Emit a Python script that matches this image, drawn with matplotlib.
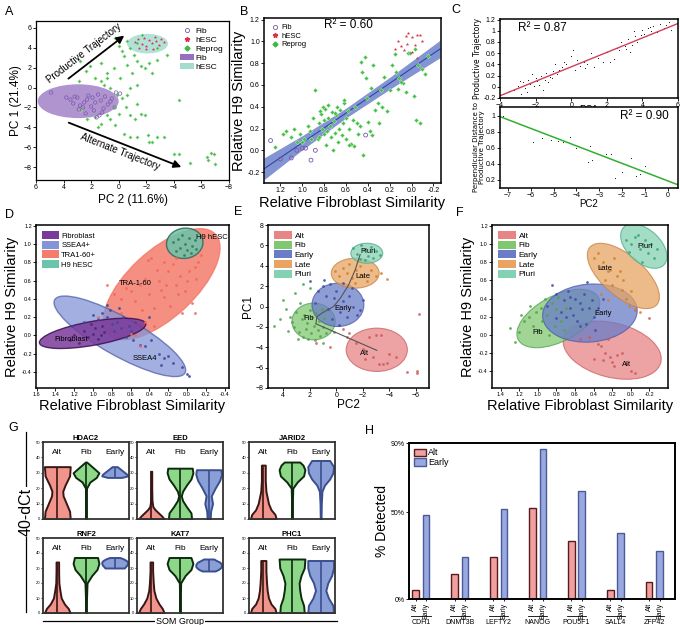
import numpy as np
import matplotlib
matplotlib.use('Agg')
import matplotlib.pyplot as plt
from matplotlib.patches import Ellipse, Patch
from matplotlib.lines import Line2D

plt.rcParams['font.family'] = ['Liberation Sans', 'DejaVu Sans']

# ---------------- data: panel A (PC2, PC1) ----------------
a_fib = [(4.9, -0.5), (3.8, -1.0), (3.5, -1.2), (3.2, -0.9), (3.0, -1.0), (2.8, -1.8), (2.6, -2.0),
         (2.5, -1.5), (2.3, -1.2), (2.2, -0.8), (2.0, -1.9), (1.8, -2.3), (1.7, -1.5), (1.5, -0.7),
         (1.4, -2.8), (1.3, -1.3), (1.1, -2.1), (1.0, -0.9), (0.8, -1.7), (0.5, -1.1), (0.3, -2.0),
         (0.2, -0.5), (2.9, -2.2), (3.3, -1.6), (1.9, -1.0), (1.2, -2.5), (0.6, -1.4), (2.4, -2.6),
         (1.6, -3.0), (-0.1, -0.6)]
a_hesc = [(-1.2, 4.6), (-1.5, 4.0), (-1.7, 4.4), (-1.8, 5.0), (-2.0, 4.2), (-2.2, 4.8), (-2.4, 4.5),
          (-2.5, 3.9), (-2.7, 4.7), (-2.9, 4.3), (-3.1, 4.9), (-3.3, 4.6), (-1.4, 4.9), (-2.6, 5.1),
          (-2.0, 3.9)]
a_reprog = [(0.24, 5.0), (0.0, 4.2), (-0.36, 3.2), (-1.1, 3.3), (-1.3, 2.7), (-0.6, 2.3), (0.36, 2.0),
            (0.85, 1.5), (1.3, 2.5), (2.1, 2.2), (2.4, 1.7), (2.9, 0.7), (1.3, 0.7), (0.85, 1.0),
            (0.6, 0.0), (0.1, -0.7), (-0.24, -1.0), (-0.6, -0.7), (-0.5, -2.0), (-0.85, -2.8),
            (-1.2, -3.2), (-1.6, -2.7), (-1.9, -2.8), (-1.3, -1.7), (-1.9, 2.0), (-2.4, 1.5),
            (-2.2, 2.5), (-2.8, 2.8), (-3.5, 3.3), (-2.8, 4.0), (-4.4, -1.3), (0.6, -3.2), (1.3, -3.7),
            (1.5, -4.0), (0.24, -3.8), (-0.36, -4.7), (-0.85, -5.0), (-1.3, -5.0), (-2.1, -4.8),
            (-2.2, -5.5), (-2.4, -5.5), (-2.8, -5.0), (-3.3, -5.0), (-4.0, -6.7), (-4.4, -6.7),
            (-5.2, -7.6), (-6.4, -7.0), (-6.7, -6.6), (-6.5, -7.3), (-7.0, -7.7), (-6.9, -6.7),
            (2.8, 2.7), (1.7, 1.0), (1.1, 0.3), (-0.85, 0.0), (-1.3, 0.3), (-0.1, 1.0), (-1.0, 1.5),
            (-1.6, 2.2), (-0.85, 4.0), (-1.3, 4.5), (-0.24, 3.7), (-1.7, 5.3), (-0.6, 4.7),
            (0.36, -2.0), (0.0, -2.7), (0.85, -2.8), (2.3, -3.2), (2.8, -2.3), (1.7, -3.0)]
a_ell_fib = (2.94, -1.37, 5.87, 3.4)
a_ell_hesc = (-2.09, 4.42, 2.97, 1.97)
a_arrow_prod = [(3.81, 0.73), (-0.56, 5.4)]
a_arrow_alt = [(3.81, -3.43), (-4.73, -8.1)]

# ---------------- data: panel B ----------------
b_fib = [(1.29, 0.09), (1.2, -0.08), (1.1, -0.07), (1.05, 0.0), (1.0, 0.02), (0.97, 0.02),
         (0.92, -0.09), (0.42, 0.14), (0.88, 0.0)]
b_hesc = [(0.12, 1.0), (0.1, 0.96), (0.05, 1.05), (0.03, 1.08), (0.0, 1.04), (-0.05, 1.06),
          (-0.08, 1.06), (0.07, 0.92), (0.0, 0.9), (-0.03, 0.97), (0.15, 0.93), (-0.1, 1.0),
          (0.04, 0.98), (-0.05, 0.85)]
b_reprog = [(1.25, 0.03), (1.18, 0.15), (1.15, 0.18), (1.1, 0.12), (1.08, 0.2), (1.05, 0.08),
            (1.02, 0.15), (0.98, 0.1), (0.95, 0.22), (0.93, 0.18), (0.9, 0.3), (0.88, 0.55),
            (0.86, 0.1), (0.85, 0.25), (0.84, 0.36), (0.83, 0.33), (0.82, 0.2), (0.81, 0.4),
            (0.8, 0.15), (0.8, 0.28), (0.79, 0.38), (0.78, 0.05), (0.77, 0.18), (0.76, 0.3),
            (0.75, 0.22), (0.74, 0.12), (0.73, 0.35), (0.72, 0.0), (0.71, 0.27), (0.7, 0.16),
            (0.69, 0.32), (0.68, 0.4), (0.67, 0.08), (0.66, 0.2), (0.65, 0.37), (0.64, 0.14),
            (0.63, 0.25), (0.62, 0.43), (0.6, 0.1), (0.6, 0.3), (0.58, 0.36), (0.57, 0.2),
            (0.55, 0.06), (0.54, 0.28), (0.53, 0.04), (0.52, 0.4), (0.5, 0.25), (0.49, 0.15),
            (0.47, 0.22), (0.46, 0.81), (0.45, 0.72), (0.43, 0.86), (0.42, 0.66), (0.41, 0.48),
            (0.4, 0.26), (0.38, 0.18), (0.37, 0.57), (0.36, 0.14), (0.35, 0.78), (0.33, 0.37),
            (0.31, 0.43), (0.3, 0.25), (0.28, 0.55), (0.27, 0.4), (0.25, 0.67), (0.22, 0.36),
            (0.2, 0.55), (0.18, 0.78), (0.15, 0.88), (0.14, 0.72), (0.12, 0.56), (0.11, 0.66),
            (0.08, 0.62), (0.05, 0.54), (0.03, 0.89), (0.01, 0.89), (-0.02, 0.5), (-0.03, 0.93),
            (-0.04, 0.28), (-0.06, 0.78), (-0.08, 0.25), (-0.1, 0.75), (-0.12, 0.7), (-0.15, 0.87),
            (0.44, -0.04), (0.7, 0.34), (0.76, 0.42), (0.62, 0.46), (0.1, 0.63), (0.92, 0.1),
            (1.0, 0.08), (0.85, 0.12), (0.57, 0.05)]
b_fit_x = [1.35, 1.0, 0.6, 0.2, -0.26]
b_fit_y = [-0.17, 0.069, 0.342, 0.615, 0.93]
b_band = [0.1, 0.065, 0.045, 0.055, 0.08]

# ---------------- data: panel C ----------------
c1_pts = [(-3.5, -0.08), (-3.2, -0.05), (-3.0, 0.02), (-2.9, 0.1), (-2.8, -0.12), (-2.7, 0.08),
          (-2.6, -0.03), (-2.5, -0.1), (-2.4, 0.12), (-2.3, 0.05), (-2.2, 0.22), (-2.1, 0.02),
          (-2.0, 0.15), (-1.9, 0.1), (-1.8, 0.03), (-1.7, 0.2), (-1.6, -0.05), (-1.5, 0.12),
          (-1.4, 0.25), (-1.3, 0.08), (-1.2, 0.18), (-1.0, 0.28), (-0.9, 0.4), (-0.8, 0.22),
          (-0.7, 0.3), (-0.5, 0.35), (-0.3, 0.4), (0.1, 0.65), (0.2, 0.3), (0.3, 0.48), (0.5, 0.38),
          (0.7, 0.45), (0.8, 0.33), (0.9, 0.4), (1.1, 0.6), (1.3, 0.35), (1.5, 0.52), (2.0, 0.62),
          (2.2, 0.45), (2.4, 0.5), (2.6, 0.7), (2.7, 0.65), (2.8, 0.8), (3.0, 0.72), (3.2, 0.85),
          (3.3, 0.62), (3.4, 0.75), (3.5, 1.0), (3.6, 0.9), (3.7, 0.8), (3.9, 0.92), (4.0, 1.02),
          (4.1, 0.95), (4.3, 1.05), (4.5, 1.0), (4.6, 1.08), (4.8, 0.98), (5.0, 1.12), (5.2, 1.05),
          (5.3, 1.1), (5.5, 1.15), (5.6, 1.02), (4.4, 1.07), (3.1, 0.68), (1.8, 0.45), (-1.1, 0.15),
          (-0.4, 0.45), (0.0, 0.55)]
c1_fit_x = [-4.0, 6.0]
c1_fit_y = [-0.16, 1.13]
c2_pts = [(-7.2, 1.0), (-5.9, 0.67), (-5.5, 0.72), (-5.1, 0.7), (-4.6, 0.67), (-4.3, 0.73),
          (-4.0, 0.6), (-3.5, 0.42), (-3.4, 0.62), (-3.3, 0.45), (-2.7, 0.53), (-2.5, 0.52),
          (-2.3, 0.22), (-1.6, 0.47), (-1.4, 0.25), (-1.2, 0.27), (-1.0, 0.38), (-4.8, 0.69),
          (-2.0, 0.3)]
c2_fit_x = [-7.35, 0.45]
c2_fit_y = [0.99, 0.14]

# ---------------- data: panel D ----------------
d_groups = ['Fibroblast', 'SSEA4+', 'TRA1-60+', 'H9 hESC']
d_fib = [(1.25, -0.05), (1.2, 0.0), (1.1, 0.05), (1.05, -0.02), (1.0, 0.02), (0.98, 0.08),
         (0.95, -0.04), (0.92, 0.0), (0.9, 0.1), (1.15, -0.08), (1.02, 0.12), (0.88, 0.04)]
d_ssea = [(1.22, 0.1), (1.1, 0.15), (1.0, 0.22), (0.95, 0.18), (0.9, 0.25), (0.85, 0.2), (0.82, 0.28),
          (0.8, 0.12), (0.78, 0.05), (0.75, 0.15), (0.72, 0.3), (0.7, 0.08), (0.68, 0.2),
          (0.65, -0.02), (0.62, 0.1), (0.6, 0.05), (0.58, -0.05), (0.5, -0.1), (0.45, -0.12),
          (0.38, -0.05), (0.3, -0.2), (0.25, -0.25), (0.2, -0.22), (0.15, -0.3), (0.28, -0.32),
          (0.05, -0.35), (0.0, -0.42), (-0.02, -0.44), (0.85, 0.33), (0.4, 0.2), (0.55, 0.15)]
d_tra = [(0.95, 0.2), (0.85, 0.55), (0.78, 0.45), (0.7, 0.4), (0.65, 0.52), (0.6, 0.48), (0.55, 0.38),
         (0.5, 0.55), (0.48, 0.28), (0.45, 0.62), (0.42, 0.82), (0.4, 0.45), (0.38, 0.85), (0.35, 0.3),
         (0.32, 0.72), (0.3, 0.6), (0.28, 0.5), (0.25, 0.42), (0.22, 0.55), (0.2, 0.7), (0.18, 0.32),
         (0.15, 0.78), (0.12, 0.55), (0.1, 0.45), (0.08, 0.65), (0.05, 0.25), (0.02, 0.48),
         (0.0, 0.6), (-0.02, 0.7), (-0.05, 0.35), (-0.08, 0.75), (-0.1, 0.62), (-0.12, 0.8),
         (-0.15, 0.88), (0.5, -0.12), (0.55, 0.0), (0.6, 0.02), (0.25, 0.8), (0.45, 0.15),
         (0.35, 0.1), (-0.08, 0.25), (0.7, 0.25), (0.12, 0.85)]
d_h9 = [(0.15, 1.02), (0.1, 1.05), (0.08, 0.96), (0.05, 1.1), (0.02, 1.0), (0.0, 0.93), (-0.02, 1.06),
        (-0.05, 0.98), (-0.08, 1.04), (-0.1, 0.95), (0.12, 0.92), (0.03, 0.88), (-0.04, 0.9)]
# ellipse summaries (cx, cy, major, minor, angle)
d_ell_fib = (1.005, 0.022, 1.15, 0.26, 169.5)
d_ell_ssea = (0.715, -0.01, 1.6, 0.42, 30.1)
d_ell_tra = (0.27, 0.56, 1.58, 0.72, 136.0)
d_ell_h9 = (0.025, 1.007, 0.39, 0.33, -10.0)

# ---------------- data: panel E ----------------
e_groups = ['Alt', 'Fib', 'Early', 'Late', 'Pluri']
e_alt = [(-6.2, -0.7), (-5.3, -6.4), (-6.1, -6.3), (-6.1, -6.5), (-4.0, -4.7), (-3.8, -5.5),
         (-3.5, -5.6), (-3.2, -5.6), (-2.8, -5.0), (-2.0, -4.2), (-1.5, -3.6), (-2.5, -3.0),
         (-3.0, -2.8), (-3.4, -2.8), (-1.0, -2.6), (-0.8, -3.0), (0.5, -4.0), (1.5, -3.6),
         (-4.5, -5.0), (-2.2, -5.2), (-0.5, -2.2)]
e_fib = [(4.7, -1.9), (4.0, 0.6), (3.8, -0.2), (3.5, -1.0), (3.3, -1.5), (3.2, -2.0), (3.0, -0.5),
         (2.8, -2.5), (2.6, -1.2), (2.5, -3.0), (2.4, -0.8), (2.3, -2.2), (2.2, -1.6), (2.1, -3.2),
         (2.0, -0.3), (1.9, -2.6), (1.8, -1.0), (1.7, -1.9), (1.6, -3.3), (1.5, -0.6), (1.4, -2.3),
         (1.3, -1.4), (1.2, -2.9), (1.1, -0.2), (1.0, -2.0), (0.9, -1.1), (0.8, -2.6), (3.1, 1.3),
         (2.7, 0.3), (2.9, -3.2), (1.0, -3.6), (0.2, -2.5), (3.6, -2.4), (4.2, -1.2), (2.0, 1.8),
         (2.5, 2.2)]
e_early = [(2.0, 2.5), (1.4, 1.5), (1.0, 2.0), (0.8, 1.0), (0.5, 2.2), (0.2, 0.8), (0.0, 1.5),
           (-0.3, -0.5), (-0.5, 0.5), (-0.8, -1.0), (-1.0, 1.0), (-1.3, 0.0), (-1.6, -0.8),
           (-1.8, -0.3), (-2.0, 0.6), (0.3, -1.2), (0.6, -0.2), (-0.2, -1.8), (1.6, 0.3),
           (-1.2, 1.8), (0.9, 2.6), (-0.5, 2.3)]
e_late = [(-0.2, 3.0), (-0.5, 3.8), (-0.8, 3.3), (-1.0, 4.2), (-1.2, 2.8), (-1.5, 3.6), (-1.8, 4.0),
          (-2.0, 3.0), (-2.3, 2.5), (-2.6, 3.6), (-3.0, 3.0), (-3.8, 2.7), (0.1, 3.5), (-1.4, 2.3),
          (-3.4, 3.3)]
e_pluri = [(-1.3, 5.7), (-1.6, 5.2), (-1.9, 6.0), (-2.1, 5.5), (-2.4, 5.0), (-2.6, 5.8), (-2.8, 4.8),
           (-3.0, 5.4), (-3.3, 5.1), (-2.2, 4.6), (-1.8, 4.7)]
e_ells = [(-3.05, -4.25, 4.6, 4.25, 0), (1.7, -1.47, 3.25, 3.6, 0), (-0.13, 0.16, 3.9, 4.25, 0),
          (-1.43, 3.27, 3.6, 2.94, 0), (-2.3, 5.23, 2.4, 1.96, 0)]
e_traj = [(-1.8, 5.1), (-1.43, 3.6), (-0.93, 2.1), (-0.3, 0.8), (0.2, 0.0), (1.07, -0.65),
          (1.45, -1.0), (1.52, -1.7), (-3.05, -4.3)]
e_label_pos = [(-2.1, -4.6), (2.1, -1.2), (-0.5, -0.2), (-2.0, 2.9), (-2.4, 5.4)]

# ---------------- data: panel F ----------------
f_alt = [(0.35, -0.1), (0.32, -0.12), (0.28, -0.2), (0.22, -0.25), (0.2, -0.3), (0.18, -0.35),
         (0.15, -0.22), (0.1, -0.2), (0.05, -0.32), (0.3, -0.28), (0.4, -0.27), (0.0, -0.4),
         (-0.05, -0.42), (0.25, -0.05), (0.45, -0.02), (-0.2, 0.18), (-0.05, 0.27), (0.55, -0.05)]
f_fib = [(1.3, 0.08), (1.25, -0.08), (1.2, 0.03), (1.15, 0.15), (1.1, 0.2), (1.05, 0.1), (1.02, 0.25),
         (1.0, 0.05), (0.97, 0.3), (0.95, 0.15), (0.9, 0.22), (0.88, 0.0), (0.85, 0.35), (0.82, 0.1),
         (0.8, 0.28), (0.78, 0.42), (0.75, 0.15), (0.72, 0.05), (0.7, 0.3), (1.08, 0.32), (0.92, 0.4),
         (1.18, 0.22)]
f_early = [(0.85, 0.55), (0.8, 0.45), (0.75, 0.25), (0.72, 0.38), (0.7, 0.2), (0.68, 0.48),
           (0.65, 0.3), (0.62, 0.22), (0.6, 0.4), (0.58, 0.15), (0.55, 0.35), (0.52, 0.28),
           (0.5, 0.45), (0.48, 0.12), (0.45, 0.3), (0.42, 0.38), (0.4, 0.2), (0.38, 0.05),
           (0.35, 0.3), (0.3, 0.4), (0.8, 0.18), (0.9, 0.32), (0.65, 0.42), (0.55, 0.1), (0.47, 0.58)]
f_late = [(0.4, 0.85), (0.35, 0.9), (0.33, 0.75), (0.3, 0.8), (0.28, 0.6), (0.25, 0.7), (0.22, 0.72),
          (0.2, 0.55), (0.18, 0.85), (0.15, 0.65), (0.12, 0.7), (0.1, 0.5), (0.08, 0.6), (0.05, 0.4),
          (0.02, 0.32), (0.0, 0.48), (-0.05, 0.28), (-0.1, 0.25), (0.32, 0.45), (0.25, 0.38)]
f_pluri = [(0.05, 1.05), (0.0, 1.0), (-0.05, 1.08), (-0.1, 0.95), (-0.15, 1.05), (-0.18, 0.9),
           (-0.22, 1.0), (-0.25, 0.85), (-0.12, 0.8), (0.02, 0.92), (-0.08, 1.1), (-0.28, 0.95)]
f_ells = [(0.2, -0.17, 1.08, 0.6, 15), (0.78, 0.18, 0.98, 0.5, 151), (0.44, 0.24, 1.02, 0.64, -5),
          (0.08, 0.65, 0.96, 0.45, 41.8), (-0.14, 0.98, 0.6, 0.36, 44)]
f_label_pos = [(0.05, -0.33), (1.0, 0.03), (0.3, 0.24), (0.28, 0.73), (-0.15, 0.98)]

# ---------------- data: panel G (violin profiles: level, relative density) ----------------
g_genes = ['HDAC2', 'EED', 'JARID2', 'RNF2', 'KAT7', 'PHC1']
g_groups = ['Alt', 'Fib', 'Early']
g_profiles = {
    'HDAC2': [([0, 5, 10, 15, 18, 22, 28, 34], [1.0, 0.95, 0.7, 0.45, 0.42, 0.6, 0.95, 1.0]),
              ([0, 10, 20, 24, 27, 30, 33, 37], [0.02, 0.02, 0.04, 0.3, 0.8, 1.0, 0.6, 0.05]),
              ([27, 28, 29, 30, 31, 32, 33, 34], [0.55, 1.0, 0.95, 0.8, 0.65, 0.5, 0.35, 0.2])],
    'EED': [([0, 2, 4, 6, 8, 12, 20, 31], [1.0, 0.8, 0.55, 0.3, 0.12, 0.05, 0.03, 0.03]),
            ([0, 4, 8, 12, 15, 18, 22, 26, 30, 33], [0.9, 0.85, 0.5, 0.2, 0.1, 0.2, 0.5, 0.85, 1.0, 0.95]),
            ([0, 5, 10, 15, 20, 25, 29, 32], [0.12, 0.15, 0.3, 0.2, 0.5, 0.85, 1.0, 0.95])],
    'JARID2': [([0, 3, 6, 10, 14, 18, 25, 35], [1.0, 0.9, 0.6, 0.4, 0.3, 0.2, 0.15, 0.15]),
               ([0, 10, 20, 24, 28, 32, 35, 37], [0.02, 0.03, 0.06, 0.4, 0.9, 1.0, 0.85, 0.6]),
               ([0, 10, 18, 22, 26, 30, 34, 38], [0.03, 0.05, 0.1, 0.3, 0.7, 0.95, 1.0, 0.7])],
    'RNF2': [([0, 3, 6, 10, 15, 20, 28, 34], [1.0, 0.85, 0.55, 0.3, 0.2, 0.12, 0.1, 0.1]),
             ([0, 10, 20, 25, 29, 33, 37], [0.03, 0.04, 0.08, 0.45, 0.85, 1.0, 0.9]),
             ([30, 31, 32, 33, 34, 35, 36, 37], [0.75, 0.85, 0.95, 1.0, 1.0, 0.9, 0.7, 0.4])],
    'KAT7': [([0, 3, 6, 10, 15, 20, 28, 34], [1.0, 0.85, 0.6, 0.35, 0.2, 0.15, 0.1, 0.1]),
             ([0, 10, 20, 25, 29, 33, 37], [0.02, 0.03, 0.05, 0.4, 0.85, 1.0, 0.85]),
             ([28, 29, 30, 31, 32, 33, 34, 35, 36], [0.5, 0.75, 0.9, 1.0, 1.0, 0.95, 0.85, 0.6, 0.4])],
    'PHC1': [([0, 3, 6, 10, 15, 20, 28, 35], [1.0, 0.9, 0.6, 0.4, 0.3, 0.25, 0.2, 0.2]),
             ([0, 5, 10, 15, 20, 25, 30, 36], [0.95, 0.9, 0.7, 0.6, 0.55, 0.7, 0.95, 1.0]),
             ([0, 5, 10, 15, 20, 25, 30, 35], [1.0, 0.95, 0.6, 0.4, 0.55, 0.85, 1.0, 1.0])],
}

# ---------------- data: panel H ----------------
h_genes = ['CDH1', 'DNMT3B', 'LEFTY2', 'NANOG', 'POU5F1', 'SALL4', 'ZFP42']
h_alt = [5, 14.5, 24, 52.5, 33.5, 5, 9.6]
h_early = [48.5, 24.2, 52, 86.7, 62.5, 38, 27.7]

# ---------------- figure ----------------
fig = plt.figure(figsize=(6.8, 6.25), dpi=100)


def px_axes(x0, y0, x1, y1):
    return fig.add_axes([x0 / 680, 1 - y1 / 625, (x1 - x0) / 680, (y1 - y0) / 625])


def tidy(ax, fs=5, lw=0.9):
    ax.tick_params(labelsize=fs, length=2, width=0.6, pad=1)
    for s in ax.spines.values():
        s.set_linewidth(lw)


def xy(pts):
    arr = np.array(pts, float)
    return arr[:, 0], arr[:, 1]


PURPLE = '#7a58aa'
RED = '#d8304a'
GREEN = '#3cb843'

# ---- A ----
ax = px_axes(36, 21, 229, 180)
tidy(ax)
ax.add_patch(Ellipse(a_ell_fib[:2], a_ell_fib[2], a_ell_fib[3], fc='#9670c0', ec='none', alpha=0.75))
ax.add_patch(Ellipse(a_ell_hesc[:2], a_ell_hesc[2], a_ell_hesc[3], fc='#a4dcd0', ec='none', alpha=0.85))
x, y = xy(a_reprog)
ax.scatter(x, y, marker='D', s=3.5, c='#46c046', edgecolors='#c8ecc8', linewidths=0.3)
x, y = xy(a_fib)
ax.scatter(x, y, marker='o', s=6, facecolors='none', edgecolors=PURPLE, linewidths=0.5)
x, y = xy(a_hesc)
ax.scatter(x, y, marker='*', s=6, c=RED, linewidths=0)
ax.set_xlim(6, -8)
ax.set_ylim(-9.3, 6.7)
ax.set_xticks(range(6, -9, -2))
ax.set_yticks(range(-8, 7, 2))
ax.set_xlabel('PC 2 (11.6%)', fontsize=8.5, labelpad=2)
ax.set_ylabel('PC 1 (21.4%)', fontsize=8.5, labelpad=1)
for (p0, p1), lab, tpos in [(a_arrow_prod, 'Productive Trajectory', (2.5, 3.5)),
                            (a_arrow_alt, 'Alternate Trajectory', (-0.1, -6.45))]:
    ax.annotate('', xy=p1, xytext=p0,
                arrowprops=dict(arrowstyle='-|>', color='black', lw=1.3, mutation_scale=11))
    d0 = ax.transData.transform(p0)
    d1 = ax.transData.transform(p1)
    ang = np.degrees(np.arctan2(d1[1] - d0[1], d1[0] - d0[0]))
    ax.text(tpos[0], tpos[1], lab, rotation=ang, rotation_mode='anchor', ha='center', va='center',
            fontsize=7)
leg_a = [Line2D([], [], ls='', marker='o', mfc='none', mec=PURPLE, ms=3, mew=0.6, label='Fib'),
         Line2D([], [], ls='', marker='*', color=RED, ms=3.5, label='hESC'),
         Line2D([], [], ls='', marker='D', color=GREEN, ms=2.5, label='Reprog'),
         Patch(fc='#9670c0', label='Fib'), Patch(fc='#a4dcd0', label='hESC')]
ax.legend(handles=leg_a, loc='upper right', fontsize=6, frameon=False, handlelength=1.6,
          handletextpad=0.2, labelspacing=0.15, borderaxespad=0.3)

# ---- B ----
ax = px_axes(264, 18, 441, 183)
tidy(ax, lw=1.1)
bx = np.array(b_fit_x)
by = np.array(b_fit_y)
bb = np.array(b_band)
ax.fill_between(bx, by - bb, by + bb, color='#5a70c4', alpha=0.75, lw=0)
ax.plot(bx, by, color='#2a48a8', lw=0.8)
x, y = xy(b_reprog)
ax.scatter(x, y, marker='D', s=5, c='#46c046', edgecolors='#c8ecc8', linewidths=0.3, zorder=3)
x, y = xy(b_fib)
ax.scatter(x, y, marker='o', s=8, facecolors='none', edgecolors=PURPLE, linewidths=0.6, zorder=3)
x, y = xy(b_hesc)
ax.scatter(x, y, marker='*', s=7, c=RED, linewidths=0, zorder=3)
ax.set_xlim(1.35, -0.27)
ax.set_ylim(-0.3, 1.215)
ax.set_xticks([1.2, 1.0, 0.8, 0.6, 0.4, 0.2, 0.0, -0.2])
ax.set_yticks([-0.2, 0.0, 0.2, 0.4, 0.6, 0.8, 1.0, 1.2])
ax.set_xticklabels(['1.2', '1.0', '0.8', '0.6', '0.4', '0.2', '0.0', '-0.2'])
ax.set_yticklabels(['-0.2', '0.0', '0.2', '0.4', '0.6', '0.8', '1.0', '1.2'])
ax.text(0.58, 1.15, 'R² = 0.60', fontsize=8.5, ha='center', va='center')
ax.set_xlabel('Relative Fibroblast Similarity', fontsize=10.5, labelpad=1)
ax.set_ylabel('Relative H9 Similarity', fontsize=10.5, labelpad=1)
leg_b = leg_a[:3]
ax.legend(handles=leg_b, loc='upper left', fontsize=5.5, frameon=False, handlelength=1.2,
          handletextpad=0.3, labelspacing=0.15, borderaxespad=0.4)

# ---- C ----
ax = px_axes(500, 19, 678, 98)
tidy(ax, fs=5, lw=1.1)
x, y = xy(c1_pts)
ax.scatter(x, y, s=0.6, c='black', linewidths=0)
ax.plot(c1_fit_x, c1_fit_y, color='#d0405a', lw=1)
ax.set_xlim(-4, 6)
ax.set_ylim(-0.175, 1.21)
ax.set_xticks([-4, -2, 0, 2, 4, 6])
ax.set_yticks([-0.2, 0, 0.2, 0.4, 0.6, 0.8, 1, 1.2])
ax.set_yticklabels(['-0.2', '0', '0.2', '0.4', '0.6', '0.8', '1', '1.2'])
ax.text(-3.0, 1.05, 'R² = 0.87', fontsize=8.5, va='center')
ax.set_xlabel('PC1', fontsize=7, labelpad=-3)
ax.set_ylabel('Productive Trajectory', fontsize=5.5, labelpad=1,
              family=['Liberation Sans Narrow', 'DejaVu Sans'])

ax = px_axes(500, 107, 678, 188)
tidy(ax, fs=5, lw=1.1)
x, y = xy(c2_pts)
ax.scatter(x, y, s=0.6, c='black', linewidths=0)
ax.plot(c2_fit_x, c2_fit_y, color='#30b030', lw=1.1)
ax.set_xlim(-7.35, 0.45)
ax.set_ylim(0.1, 1.11)
ax.set_xticks(range(-7, 1))
ax.set_yticks([0.2, 0.4, 0.6, 0.8, 1.0])
ax.set_yticklabels(['0.2', '0.4', '0.6', '0.8', '1'])
ax.text(0.05, 1.0, 'R² = 0.90', fontsize=8.5, ha='right', va='center')
ax.set_xlabel('PC2', fontsize=7, labelpad=0)
ax.set_ylabel('Perpendicular Distance to\nProductive Trajectory', fontsize=5, labelpad=1,
              linespacing=1.0, family=['Liberation Sans Narrow', 'DejaVu Sans'])

# ---- D ----
ax = px_axes(36, 225, 229, 388)
tidy(ax, fs=4, lw=1.1)
d_face = ['#7a3a9a', '#8494d8', '#f47c6c', '#6cc4aa']
d_edge = ['#3a1050', '#5060a8', '#f47c6c', '#2a6a58']
d_pt = ['#4a2a70', '#3b4a9a', '#f06a5a', '#2e7d66']
d_alpha = [0.85, 0.75, 0.85, 0.85]
d_ells = [d_ell_fib, d_ell_ssea, d_ell_tra, d_ell_h9]
for i in [2, 1, 0, 3]:
    cx, cy, w, h, a = d_ells[i]
    ax.add_patch(Ellipse((cx, cy), w, h, angle=a, fc=d_face[i], ec=d_edge[i], lw=1.0, alpha=d_alpha[i]))
for pts, col in zip([d_fib, d_ssea, d_tra, d_h9], d_pt):
    x, y = xy(pts)
    ax.scatter(x, y, s=4, c=col, linewidths=0, zorder=3, alpha=0.9)
ax.set_xlim(1.607, -0.446)
ax.set_ylim(-0.575, 1.207)
ax.set_xticks([1.6, 1.4, 1.2, 1.0, 0.8, 0.6, 0.4, 0.2, 0.0, -0.2, -0.4])
ax.set_xticklabels(['1.6', '1.4', '1.2', '1.0', '0.8', '0.6', '0.4', '0.2', '0.0', '-0.2', '-0.4'])
ax.set_yticks([-0.4, -0.2, 0.0, 0.2, 0.4, 0.6, 0.8, 1.0, 1.2])
ax.set_yticklabels(['-0.4', '-0.2', '0.0', '0.2', '0.4', '0.6', '0.8', '1.0', '1.2'])
ax.text(-0.1, 1.07, 'H9 hESC', fontsize=5.5, ha='left', va='center')
ax.text(0.55, 0.57, 'TRA-1-60', fontsize=5.5, ha='center', va='center')
ax.text(0.45, -0.25, 'SSEA4', fontsize=5.5, ha='center', va='center')
ax.text(1.23, -0.04, 'Fibroblast', fontsize=5.5, ha='center', va='center')
ax.set_xlabel('Relative Fibroblast Similarity', fontsize=10.5, labelpad=1)
ax.set_ylabel('Relative H9 Similarity', fontsize=10.5, labelpad=2)
ax.legend(handles=[Patch(fc=c, label=l) for c, l in zip(d_face, d_groups)], loc='upper left',
          fontsize=5.5, frameon=False, handlelength=2.2, handleheight=1.2, handletextpad=0.3,
          labelspacing=0.15, borderaxespad=0.4)

# ---- E / F shared colours ----
ef_face = ['#e88484', '#80c870', '#6a7cc8', '#e8a462', '#84d2b4']
ef_edge = ['#c86060', '#50a050', '#4858a8', '#c88040', '#50a888']
ef_pt = ['#cc5a5a', '#4ea24e', '#3c4ca8', '#d08030', '#3ca07c']

ax = px_axes(268, 225, 429, 388)
tidy(ax, fs=5, lw=1.1)
for (cx, cy, w, h, a), fc, ec in zip(e_ells, ef_face, ef_edge):
    ax.add_patch(Ellipse((cx, cy), w, h, angle=a, fc=fc, ec=ec, lw=0.8, alpha=0.75))
for pts, col in zip([e_alt, e_fib, e_early, e_late, e_pluri], ef_pt):
    x, y = xy(pts)
    ax.scatter(x, y, s=4, c=col, linewidths=0, zorder=3, alpha=0.85)
tx, ty = xy(e_traj)
ax.plot(tx[:8], ty[:8], color='#555555', lw=0.8, zorder=4)
ax.plot(tx[7:], ty[7:], color='#555555', lw=0.8, zorder=4)
for (lx, ly), lab in zip(e_label_pos, e_groups):
    ax.text(lx, ly, lab, fontsize=5.5, ha='center', va='center', zorder=5)
ax.set_xlim(5.125, -6.975)
ax.set_ylim(-8, 8)
ax.set_xticks([4, 2, 0, -2, -4, -6])
ax.set_yticks(range(-8, 9, 2))
ax.set_xlabel('PC2', fontsize=8.5, labelpad=0)
ax.set_ylabel('PC1', fontsize=8.5, labelpad=1)
ax.legend(handles=[Patch(fc=c, label=l) for c, l in zip(ef_face, e_groups)], loc='upper left',
          fontsize=6, frameon=False, handlelength=2.2, handleheight=1.1, handletextpad=0.3,
          labelspacing=0.1, borderaxespad=0.3)

ax = px_axes(492, 225, 668, 388)
tidy(ax, fs=4, lw=1.1)
for (cx, cy, w, h, a), fc, ec in zip(f_ells, ef_face, ef_edge):
    ax.add_patch(Ellipse((cx, cy), w, h, angle=a, fc=fc, ec=ec, lw=0.8, alpha=0.75))
for pts, col in zip([f_alt, f_fib, f_early, f_late, f_pluri], ef_pt):
    x, y = xy(pts)
    ax.scatter(x, y, s=4, c=col, linewidths=0, zorder=3, alpha=0.85)
for (lx, ly), lab in zip(f_label_pos, e_groups):
    ax.text(lx, ly, lab, fontsize=5.5, ha='center', va='center', zorder=5)
ax.set_xlim(1.493, -0.4)
ax.set_ylim(-0.588, 1.213)
ax.set_xticks([1.4, 1.2, 1.0, 0.8, 0.6, 0.4, 0.2, 0.0, -0.2])
ax.set_xticklabels(['1.4', '1.2', '1.0', '0.8', '0.6', '0.4', '0.2', '0.0', '-0.2'])
ax.set_yticks([-0.4, -0.2, 0.0, 0.2, 0.4, 0.6, 0.8, 1.0, 1.2])
ax.set_yticklabels(['-0.4', '-0.2', '0.0', '0.2', '0.4', '0.6', '0.8', '1.0', '1.2'])
ax.set_xlabel('Relative Fibroblast Similarity', fontsize=10.5, labelpad=1)
ax.set_ylabel('Relative H9 Similarity', fontsize=10.5, labelpad=2)
ax.legend(handles=[Patch(fc=c, label=l) for c, l in zip(ef_face, e_groups)], loc='upper left',
          fontsize=6, frameon=False, handlelength=2.2, handleheight=1.1, handletextpad=0.3,
          labelspacing=0.1, borderaxespad=0.3)

# ---- G ----
g_face = ['#f0948c', '#8cd888', '#8a9ed8']
g_edge = ['#3a1515', '#0d2a0d', '#3a4f8f']
g_cols = [43, 137, 249]
g_rows = [(442, 519), (538, 613)]
for k, gene in enumerate(g_genes):
    r, c = divmod(k, 3)
    ax = px_axes(g_cols[c], g_rows[r][0], g_cols[c] + 86, g_rows[r][1])
    tidy(ax, fs=3, lw=1.3)
    ax.tick_params(length=1.5, pad=0.5)
    for s in ax.spines.values():
        s.set_color('#333333')
    for j, (coords, vals) in enumerate(g_profiles[gene]):
        st = [dict(coords=np.array(coords, float), vals=np.array(vals, float), mean=0.0,
                   median=0.0, min=coords[0], max=coords[-1])]
        parts = ax.violin(st, positions=[j], widths=0.9, showmeans=False, showextrema=False,
                          showmedians=False)
        for body in parts['bodies']:
            body.set_facecolor(g_face[j])
            body.set_edgecolor(g_edge[j])
            body.set_alpha(1)
            body.set_linewidth(1.4)
        ax.vlines(j, coords[0], coords[-1], color=g_edge[j], lw=1.2)
        ax.text(j, 43, g_groups[j], fontsize=6, ha='center', va='center')
    ax.set_xlim(-0.5, 2.5)
    ax.set_ylim(0, 50)
    ax.set_xticks([])
    ax.set_yticks(range(0, 51, 10))
    ax.set_title(gene, fontsize=5.5, fontweight='bold', pad=1.5)

fig.add_artist(Line2D([26 / 680, 26 / 680], [1 - 432 / 625, 1 - 612 / 625], color='black', lw=0.9))
fig.text(26 / 680, 1 - 512 / 625, '40-dCt', rotation=90, fontsize=11.5, ha='center', va='center',
         bbox=dict(fc='white', ec='none', pad=0.5))
fig.add_artist(Line2D([43 / 680, 337 / 680], [1 - 621 / 625, 1 - 621 / 625], color='black', lw=0.9))
fig.text(180 / 680, 1 - 621 / 625, 'SOM Group', fontsize=6.5, ha='center', va='center',
         bbox=dict(fc='white', ec='none', pad=1))

# ---- H ----
ax = px_axes(409, 443, 675, 599)
tidy(ax, fs=5, lw=1.4)
pos = np.arange(len(h_genes))
ax.bar(pos - 0.135, h_alt, width=0.17, color='#f0a0a0', edgecolor='#5a1a1a', lw=1.0, label='Alt')
ax.bar(pos + 0.135, h_early, width=0.17, color='#9aa8e0', edgecolor='#4a5a9a', lw=1.0, label='Early')
ax.set_xlim(-0.305, 6.53)
ax.set_ylim(0, 90)
ax.set_yticks([0, 50, 90])
ax.set_yticklabels(['0%', '50%', '90%'])
ticks = np.sort(np.concatenate([pos - 0.135, pos + 0.135]))
ax.set_xticks(ticks)
ax.set_xticklabels(['Alt', 'Early'] * len(h_genes), rotation=90, fontsize=5)
ax.tick_params(axis='x', length=1.5, pad=1)
for i, g in enumerate(h_genes):
    ax.plot([i - 0.25, i + 0.25], [-0.11, -0.11], color='black', lw=0.6,
            transform=ax.get_xaxis_transform(), clip_on=False)
    ax.text(i, -0.125, g, fontsize=5, ha='center', va='top', transform=ax.get_xaxis_transform())
ax.set_ylabel('% Detected', fontsize=10, labelpad=1)
ax.legend(loc='upper left', fontsize=6.5, frameon=False, handlelength=1.3, handleheight=0.9,
          handletextpad=0.2, labelspacing=0.1, borderaxespad=0.2)

# ---- panel letters ----
for lab, (px, py) in zip('ABCDEFGH', [(5, 12), (240, 12), (451, 10), (5, 215), (234, 212),
                                       (456, 213), (8, 428), (365, 431)]):
    fig.text(px / 680, 1 - py / 625, lab, fontsize=9, ha='left', va='center')

fig.savefig('out.png', dpi=100)
